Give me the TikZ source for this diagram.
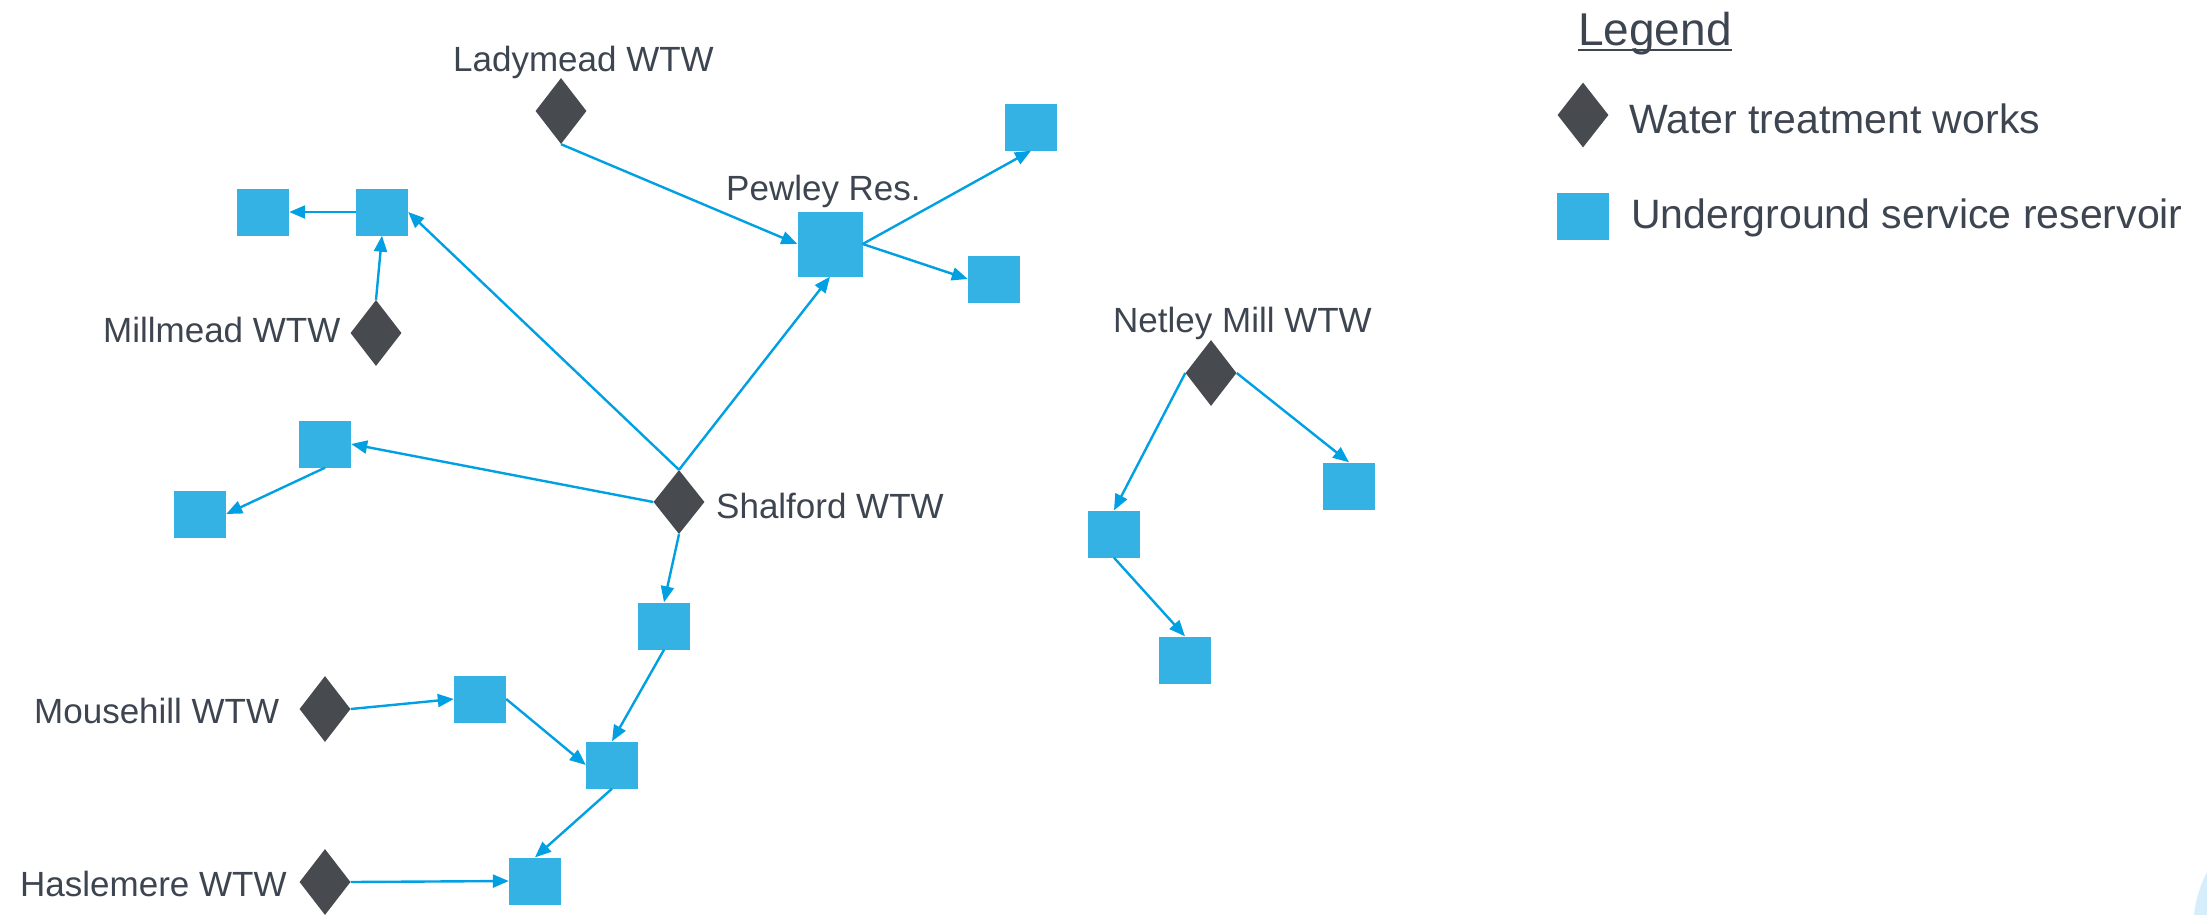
\documentclass[tikz,border=0pt]{standalone}
\usepackage{fontspec}
\setmainfont{Liberation Sans}
\usetikzlibrary{shapes.geometric,arrows.meta}
\definecolor{sqblue}{RGB}{53,178,228}
\definecolor{arrblue}{RGB}{0,160,227}
\definecolor{wtwgray}{RGB}{71,74,79}
\definecolor{txtgray}{RGB}{61,69,80}
\definecolor{paleblue}{RGB}{214,238,251}
\begin{document}
\begin{tikzpicture}[x=1pt,y=-1pt,
  res/.style={rectangle, fill=sqblue, minimum width=52pt, minimum height=47pt, inner sep=0pt},
  wtw/.style={diamond, fill=wtwgray, minimum width=51pt, minimum height=66pt, inner sep=0pt},
  lbl/.style={anchor=base west, inner sep=0pt, text=txtgray, font=\fontsize{35}{40}\selectfont},
  leglbl/.style={anchor=base west, inner sep=0pt, text=txtgray, font=\fontsize{41}{46}\selectfont},
  flow/.style={draw=arrblue, line width=2.4pt, -{Triangle[length=16pt,width=13pt]}}]
\useasboundingbox (0,0) rectangle (2207,914);
\begin{scope}
  \clip (0,0) rectangle (2207,914);
  \fill[paleblue] (2320,930) circle (127pt);
\end{scope}
% nodes
\node[wtw] (lady) at (561,111) {};
\node[res, minimum width=65pt, minimum height=65pt] (pew) at (830,244) {};
\node[res] (tr) at (1031,127) {};
\node[res] (rr) at (994,279) {};
\node[res] (ll) at (263,212) {};
\node[res] (lm) at (382,212) {};
\node[wtw] (mill) at (376,333) {};
\node[res] (wa) at (325,444) {};
\node[res] (wb) at (200,514) {};
\node[wtw, minimum height=64pt] (shal) at (679,502) {};
\node[res] (sc) at (664,626) {};
\node[wtw] (mouse) at (325,709) {};
\node[res] (sd) at (480,699) {};
\node[res] (se) at (612,765) {};
\node[wtw] (hasl) at (325,882) {};
\node[res] (sf) at (535,881) {};
\node[wtw] (net) at (1211,373) {};
\node[res] (sg) at (1114,534) {};
\node[res] (sh) at (1349,486) {};
\node[res] (si) at (1185,660) {};
% labels
\node[lbl] (ladyl) at (453,71) {Ladymead WTW};
\node[lbl] (pewl) at (726,200) {Pewley Res.};
\node[lbl] (milll) at (103,342) {Millmead WTW};
\node[lbl] (shall) at (716,518) {Shalford WTW};
\node[lbl] (mousel) at (34,723) {Mousehill WTW};
\node[lbl] (hasll) at (20,896) {Haslemere WTW};
\node[lbl] (netl) at (1113,332) {Netley Mill WTW};
% connectors
\draw[flow] (lady.south) -- (pew.west);
\draw[flow] (pew.east) -- (tr.south);
\draw[flow] (pew.east) -- (rr.west);
\draw[flow] (lm.west) -- (ll.east);
\draw[flow] (mill.north) -- (lm.south);
\draw[flow] (shal.north) -- (lm.east);
\draw[flow] (shal.north) -- (pew.south);
\draw[flow] (shal.west) -- (wa.east);
\draw[flow] (wa.south) -- (wb.east);
\draw[flow] (shal.south) -- (sc.north);
\draw[flow] (sc.south) -- (se.north);
\draw[flow] (mouse.east) -- (sd.west);
\draw[flow] (sd.east) -- (se.west);
\draw[flow] (se.south) -- (sf.north);
\draw[flow] (hasl.east) -- (sf.west);
\draw[flow] (net.west) -- (sg.north);
\draw[flow] (net.east) -- (sh.north);
\draw[flow] (sg.south) -- (si.north);
% legend
\node[anchor=base west, inner sep=0pt, text=txtgray, font=\fontsize{46}{50}\selectfont] (legt) at (1578,45) {Legend};
\draw[txtgray, line width=1.8pt] ([yshift=-5pt]legt.base west) -- ([yshift=-5pt]legt.base east);
\node[wtw, minimum height=65pt] (legw) at (1583,115) {};
\node[res] (legr) at (1583,216) {};
\node[leglbl] (legwl) at (1629,133) {Water treatment works};
\node[leglbl] (legrl) at (1631,228) {Underground service reservoir};
\end{tikzpicture}
\end{document}
